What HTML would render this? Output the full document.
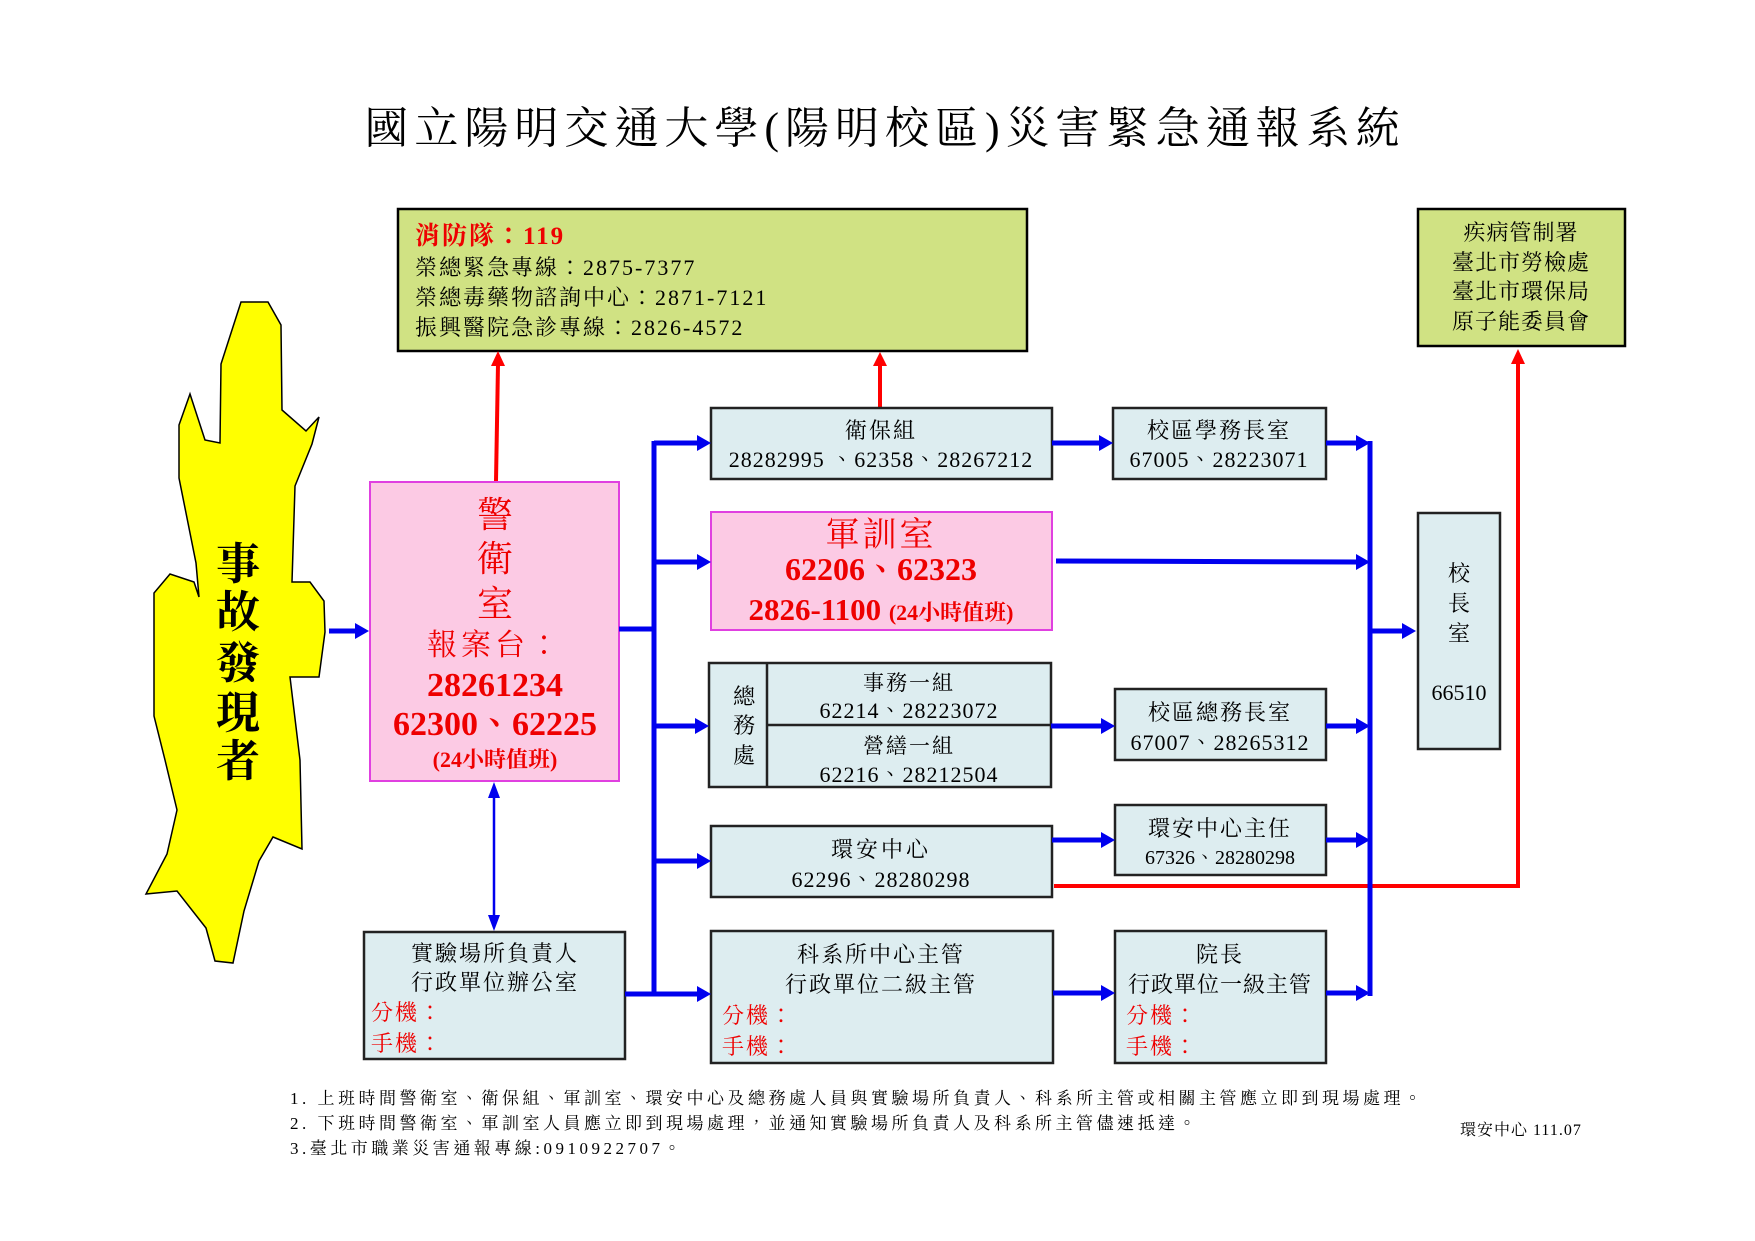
<!DOCTYPE html>
<html><head><meta charset="utf-8"><style>
html,body{margin:0;padding:0;background:#fff;}
svg{display:block;}
text{font-family:"Liberation Serif","Noto Serif CJK TC","Noto Serif CJK SC",serif;}
</style></head><body>
<svg width="1755" height="1241" viewBox="0 0 1755 1241" xmlns="http://www.w3.org/2000/svg">
<rect width="1755" height="1241" fill="#fff"/>
<text x="885" y="143" font-size="44" text-anchor="middle" letter-spacing="6" fill="#000">國立陽明交通大學(陽明校區)災害緊急通報系統</text>

<!-- yellow figure -->
<path d="M241,302 L268,302 L281,325 L282,410 L306,431 L319,417 L312,444 L295,486 L292,582 L310,582 L324,601 L325,632 L319,677 L290,677 L300,760 L302,849 L273,837 L259,861 L244,911 L233,963 L215,961 L206,928 L177,891 L146,894 L167,854 L177,810 L165,760 L154,716 L154,593 L170,574 L194,582 L199,597 L196,563 L179,478 L179,425 L190,394 L205,440 L220,443 L221,364 Z" fill="#ffff00" stroke="#000" stroke-width="1.5"/>
<g font-size="44" font-weight="bold" text-anchor="middle" fill="#000">
<text x="238" y="579">事</text><text x="238" y="627">故</text><text x="238" y="678">發</text><text x="238" y="728">現</text><text x="238" y="776">者</text>
</g>

<!-- green box -->
<rect x="398" y="209" width="629" height="142" fill="#d0e283" stroke="#000" stroke-width="2.5"/>
<text x="415" y="244" font-size="25" font-weight="bold" fill="#e00" letter-spacing="2">消防隊：119</text>
<g font-size="22" fill="#000" letter-spacing="2">
<text x="415" y="275">榮總緊急專線：2875-7377</text>
<text x="415" y="305">榮總毒藥物諮詢中心：2871-7121</text>
<text x="415" y="335">振興醫院急診專線：2826-4572</text>
</g>
<rect x="1418" y="209" width="207" height="137" fill="#d0e283" stroke="#000" stroke-width="2.5"/>
<g font-size="22" fill="#000" text-anchor="middle" letter-spacing="1">
<text x="1521" y="240">疾病管制署</text>
<text x="1521" y="270">臺北市勞檢處</text>
<text x="1521" y="299">臺北市環保局</text>
<text x="1521" y="329">原子能委員會</text>
</g>

<!-- red lines -->
<g stroke="#f00" stroke-width="4" fill="none">
<line x1="496" y1="481" x2="498" y2="364"/>
<line x1="880" y1="407" x2="880" y2="364"/>
<polyline points="1054,886 1518,886 1518,362"/>
</g>
<g fill="#f00">
<polygon points="498,351 491,366 505,366"/>
<polygon points="880,352 873,366 887,366"/>
<polygon points="1518,349 1511,364 1525,364"/>
</g>

<!-- pink 警衛室 -->
<rect x="370" y="482" width="249" height="299" fill="#fccae4" stroke="#e040e0" stroke-width="2"/>
<g fill="#e00" text-anchor="middle" font-weight="bold">
<text x="495" y="527" font-size="36" font-weight="normal">警</text>
<text x="495" y="571" font-size="36" font-weight="normal">衛</text>
<text x="495" y="616" font-size="36" font-weight="normal">室</text>
<text x="495" y="655" font-size="30" font-weight="normal" letter-spacing="4">報案台：</text>
<text x="495" y="696" font-size="34">28261234</text>
<text x="495" y="735" font-size="34">62300、62225</text>
<text x="495" y="767" font-size="22">(24小時值班)</text>
</g>

<!-- 軍訓室 -->
<rect x="711" y="512" width="341" height="118" fill="#fccae4" stroke="#e040e0" stroke-width="2"/>
<g fill="#e00" text-anchor="middle" font-weight="bold">
<text x="881" y="546" font-size="34" font-weight="normal" letter-spacing="3">軍訓室</text>
<text x="881" y="580" font-size="32">62206、62323</text>
<text x="881" y="620" font-size="31">2826-1100 <tspan font-size="22">(24小時值班)</tspan></text>
</g>

<!-- light boxes -->
<g fill="#ddedf0" stroke="#222" stroke-width="2.5">
<rect x="711" y="408" width="341" height="71"/>
<rect x="1113" y="408" width="213" height="71"/>
<rect x="709" y="663" width="342" height="124"/>
<line x1="767" y1="663" x2="767" y2="787"/>
<line x1="767" y1="725" x2="1051" y2="725"/>
<rect x="1115" y="689" width="211" height="71"/>
<rect x="1115" y="805" width="211" height="70"/>
<rect x="711" y="826" width="341" height="71"/>
<rect x="711" y="931" width="342" height="132"/>
<rect x="1115" y="931" width="211" height="132"/>
<rect x="364" y="932" width="261" height="127"/>
<rect x="1418" y="513" width="82" height="236"/>
</g>
<g font-size="22" fill="#000" text-anchor="middle">
<text x="881" y="438" letter-spacing="2">衛保組</text>
<text x="881" y="467" letter-spacing="1">28282995 、62358、28267212</text>
<text x="1219" y="438" letter-spacing="2">校區學務長室</text>
<text x="1219" y="467" letter-spacing="1">67005、28223071</text>
<text x="744" y="704">總</text><text x="744" y="733">務</text><text x="744" y="763">處</text>
<text x="909" y="690" font-size="21" letter-spacing="2">事務一組</text>
<text x="909" y="718" letter-spacing="1">62214、28223072</text>
<text x="909" y="753" font-size="21" letter-spacing="2">營繕一組</text>
<text x="909" y="782" letter-spacing="1">62216、28212504</text>
<text x="1220" y="720" letter-spacing="2">校區總務長室</text>
<text x="1220" y="750" letter-spacing="1">67007、28265312</text>
<text x="1220" y="836" letter-spacing="2">環安中心主任</text>
<text x="1220" y="864" font-size="20">67326、28280298</text>
<text x="881" y="857" letter-spacing="3">環安中心</text>
<text x="881" y="887" letter-spacing="1">62296、28280298</text>
<text x="881" y="962" letter-spacing="2">科系所中心主管</text>
<text x="881" y="992" letter-spacing="2">行政單位二級主管</text>
<text x="1220" y="962" letter-spacing="2">院長</text>
<text x="1220" y="992" letter-spacing="1">行政單位一級主管</text>
<text x="495" y="961" letter-spacing="2">實驗場所負責人</text>
<text x="495" y="990" letter-spacing="2">行政單位辦公室</text>
<text x="1459" y="581">校</text><text x="1459" y="611">長</text><text x="1459" y="641">室</text>
<text x="1459" y="700">66510</text>
</g>
<g font-size="22" fill="#e00" letter-spacing="2">
<text x="371" y="1020">分機：</text><text x="371" y="1051">手機：</text>
<text x="722" y="1023">分機：</text><text x="722" y="1054">手機：</text>
<text x="1126" y="1023">分機：</text><text x="1126" y="1054">手機：</text>
</g>

<!-- blue lines -->
<g stroke="#0000ee" stroke-width="5" fill="none">
<line x1="654" y1="441" x2="654" y2="996"/>
<line x1="1370" y1="441" x2="1370" y2="996"/>
<line x1="329" y1="631" x2="357" y2="631"/>
<line x1="619" y1="629" x2="654" y2="629"/>
<line x1="654" y1="443" x2="698" y2="443"/>
<line x1="654" y1="562" x2="698" y2="562"/>
<line x1="654" y1="726" x2="696" y2="726"/>
<line x1="654" y1="861" x2="698" y2="861"/>
<line x1="625" y1="994" x2="698" y2="994"/>
<line x1="1052" y1="443" x2="1100" y2="443"/>
<line x1="1326" y1="443" x2="1357" y2="443"/>
<line x1="1056" y1="561" x2="1357" y2="562"/>
<line x1="1051" y1="726" x2="1102" y2="726"/>
<line x1="1326" y1="726" x2="1357" y2="726"/>
<line x1="1052" y1="840" x2="1102" y2="840"/>
<line x1="1326" y1="840" x2="1357" y2="840"/>
<line x1="1053" y1="993" x2="1102" y2="993"/>
<line x1="1326" y1="993" x2="1357" y2="993"/>
<line x1="1370" y1="631" x2="1403" y2="631"/>
</g>
<line x1="494" y1="795" x2="494" y2="918" stroke="#0000ee" stroke-width="2.5"/>
<g fill="#0000ee">
<polygon points="369,631 355,623 355,639"/>
<polygon points="711,443 697,435 697,451"/>
<polygon points="711,562 697,554 697,570"/>
<polygon points="709,726 695,718 695,734"/>
<polygon points="711,861 697,853 697,869"/>
<polygon points="711,994 697,986 697,1002"/>
<polygon points="1113,443 1099,435 1099,451"/>
<polygon points="1370,443 1356,435 1356,451"/>
<polygon points="1370,562 1356,554 1356,570"/>
<polygon points="1115,726 1101,718 1101,734"/>
<polygon points="1370,726 1356,718 1356,734"/>
<polygon points="1115,840 1101,832 1101,848"/>
<polygon points="1370,840 1356,832 1356,848"/>
<polygon points="1115,993 1101,985 1101,1001"/>
<polygon points="1370,993 1356,985 1356,1001"/>
<polygon points="1416,631 1402,623 1402,639"/>
<polygon points="494,782 488,798 500,798"/>
<polygon points="494,931 488,915 500,915"/>
</g>

<!-- notes -->
<g font-size="17" fill="#000" letter-spacing="3.5">
<text x="290" y="1104">1. 上班時間警衛室、衛保組、軍訓室、環安中心及總務處人員與實驗場所負責人、科系所主管或相關主管應立即到現場處理。</text>
<text x="290" y="1129">2. 下班時間警衛室、軍訓室人員應立即到現場處理，並通知實驗場所負責人及科系所主管儘速抵達。</text>
<text x="290" y="1154">3.臺北市職業災害通報專線:0910922707。</text>
<text x="1460" y="1135" font-size="16" letter-spacing="1">環安中心 111.07</text>
</g>
</svg>
</body></html>
